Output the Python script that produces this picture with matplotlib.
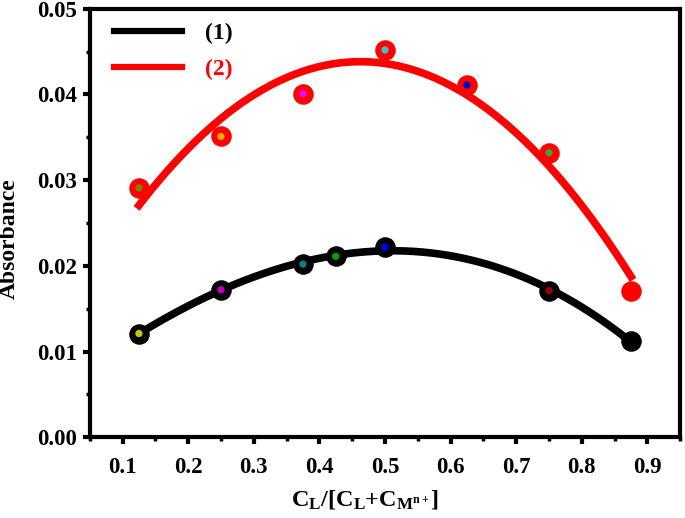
import numpy as np
import matplotlib
matplotlib.use('Agg')
import matplotlib.pyplot as plt
from matplotlib.ticker import MultipleLocator

plt.rcParams['font.family'] = 'Liberation Serif'
plt.rcParams['font.weight'] = 'bold'
plt.rcParams['mathtext.fontset'] = 'custom'
plt.rcParams['mathtext.rm'] = 'Liberation Serif:bold'
plt.rcParams['mathtext.it'] = 'Liberation Serif:italic:bold'
plt.rcParams['mathtext.bf'] = 'Liberation Serif:bold'

# data
x1 = [0.125, 0.25, 0.375, 0.425, 0.5, 0.75, 0.875]
y1 = [0.0121, 0.0172, 0.0202, 0.0211, 0.0222, 0.0171, 0.0112]
c1 = ['#c8c800', '#c000c0', '#008080', '#00a000', '#0000ff', '#a00000', 'black']

x2 = [0.125, 0.25, 0.375, 0.5, 0.625, 0.75, 0.875]
y2 = [0.0291, 0.0351, 0.0401, 0.0452, 0.0411, 0.0332, 0.0171]
c2 = ['#808000', '#ffa500', '#ff00ff', '#40c0c0', '#0000c0', '#40a040', 'red']

labels = ['(1)', '(2)']
xticks = [0.1, 0.2, 0.3, 0.4, 0.5, 0.6, 0.7, 0.8, 0.9]
yticks = [0.00, 0.01, 0.02, 0.03, 0.04, 0.05]

fig = plt.figure(figsize=(6.85, 5.18), dpi=100)
ax = fig.add_axes([0.131, 0.156, 0.862, 0.827])

# polynomial fit curves
xf = np.linspace(0.125, 0.875, 200)
p1 = np.polyfit(x1, y1, 3)
p2 = np.polyfit(x2, y2, 2)

ax.scatter(x1, y1, s=190, color='black', zorder=3)
ax.scatter(x1, y1, s=18, c=c1, zorder=4)
ax.plot(xf, np.polyval(p1, xf), color='black', lw=5.5, label=labels[0], zorder=2)

ax.scatter(x2, y2, s=190, color='red', zorder=3)
ax.scatter(x2, y2, s=18, c=c2, zorder=4)
ax.plot(xf, np.polyval(p2, xf), color='red', lw=5.5, label=labels[1], zorder=2)

ax.set_xlim(0.05, 0.95)
ax.set_ylim(0, 0.05)
ax.set_xticks(xticks)
ax.set_yticks(yticks)
ax.xaxis.set_minor_locator(MultipleLocator(0.05))
ax.yaxis.set_minor_locator(MultipleLocator(0.005))
ax.set_xticklabels(['%.1f' % v for v in xticks])
ax.set_yticklabels(['%.2f' % v for v in yticks])

for s in ax.spines.values():
    s.set_linewidth(3)
ax.tick_params(which='major', direction='out', length=5, width=3, labelsize=16.5, pad=4)
ax.tick_params(which='minor', direction='out', length=3, width=2.5)
ax.tick_params(axis='x', which='major', pad=9)

ax.set_ylabel('Absorbance', fontsize=17, fontweight='bold')
ax.yaxis.set_label_coords(-0.118, 0.463)
ax.set_xlabel(r'$\mathrm{C_L/[C_L{+}C_{M^{n+}}]}$', fontsize=17.5)
ax.xaxis.set_label_coords(0.466, -0.118)

leg = ax.legend(loc='upper left', bbox_to_anchor=(0.017, 1.0), frameon=False,
                fontsize=17, handlelength=2.9, handletextpad=0.95,
                labelspacing=0.6, borderaxespad=0.2)
for t, col in zip(leg.get_texts(), ['black', 'red']):
    t.set_color(col)
    t.set_fontweight('bold')
for ln in leg.get_lines():
    ln.set_linewidth(4.5)

fig.savefig('out.png', dpi=100)
